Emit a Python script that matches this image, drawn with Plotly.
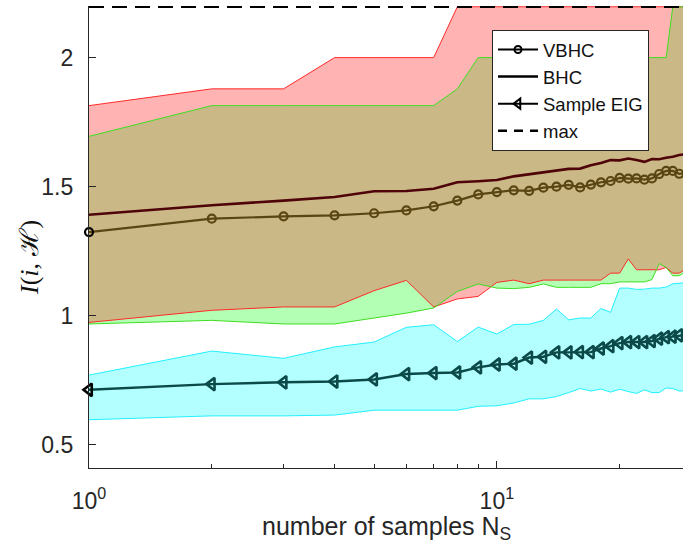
import numpy as np
import plotly.graph_objects as go

# ---------------- data ----------------
n_samples = list(range(1, 31))

vbhc = [1.324, 1.376, 1.385, 1.389, 1.397, 1.408, 1.424, 1.446, 1.470, 1.479,
        1.486, 1.484, 1.496, 1.500, 1.507, 1.497, 1.508, 1.517, 1.522, 1.534,
        1.531, 1.532, 1.527, 1.532, 1.549, 1.561, 1.561, 1.550, 1.552, 1.555]

bhc = [1.391, 1.428, 1.446, 1.460, 1.482, 1.483, 1.492, 1.517, 1.521, 1.526,
       1.540, 1.548, 1.556, 1.565, 1.569, 1.570, 1.583, 1.592, 1.603, 1.602,
       1.609, 1.603, 1.596, 1.607, 1.606, 1.612, 1.616, 1.623, 1.626, 1.628]

sample_eig = [0.713, 0.735, 0.742, 0.745, 0.753, 0.774, 0.778, 0.780, 0.800, 0.811,
              0.814, 0.838, 0.841, 0.858, 0.858, 0.859, 0.859, 0.873, 0.882, 0.894,
              0.898, 0.898, 0.898, 0.902, 0.911, 0.917, 0.919, 0.924, 0.926, 0.930]

max_value = 2.1972  # log(9)

# BHC band (red)
bhc_upper = [1.814, 1.879, 1.879, 2.0, 2.0, 2.0, 2.0, 2.197, 2.197, 2.197,
             2.197, 2.197, 2.197, 2.197, 2.197, 2.197, 2.197, 2.197, 2.197, 2.197,
             2.197, 2.197, 2.197, 2.197, 2.197, 2.197, 2.197, 2.197, 2.197, 2.197]
bhc_lower = [0.974, 1.021, 1.034, 1.034, 1.097, 1.137, 1.034, 1.065, 1.075, 1.129,
             1.138, 1.124, 1.138, 1.138, 1.138, 1.138, 1.138, 1.138, 1.165, 1.165,
             1.220, 1.178, 1.178, 1.178, 1.178, 1.187, 1.165, 1.165, 1.180, 1.190]

# VBHC band (green)
vbhc_upper = [1.695, 1.814, 1.814, 1.814, 1.814, 1.814, 1.814, 1.879, 2.0, 2.0,
              2.0, 2.0, 2.0, 2.0, 2.0, 2.0, 2.0, 2.0, 2.0, 2.0,
              2.0, 2.0, 2.0, 2.0, 2.0, 2.0, 2.197, 2.197, 2.197, 2.197]
vbhc_lower = [0.968, 0.982, 0.968, 0.968, 0.991, 1.010, 1.030, 1.094, 1.123, 1.107,
              1.105, 1.110, 1.123, 1.110, 1.110, 1.110, 1.110, 1.124, 1.124, 1.131,
              1.131, 1.131, 1.131, 1.140, 1.202, 1.187, 1.155, 1.155, 1.170, 1.180]

# Sample EIG band (cyan)
eig_upper = [0.770, 0.863, 0.835, 0.879, 0.898, 0.955, 0.965, 0.900, 0.956, 0.929,
             0.966, 0.967, 0.982, 1.026, 0.984, 0.991, 0.991, 1.028, 1.013, 1.107,
             1.107, 1.102, 1.103, 1.107, 1.107, 1.111, 1.124, 1.126, 1.128, 1.130]
eig_lower = [0.597, 0.612, 0.612, 0.615, 0.634, 0.634, 0.634, 0.634, 0.649, 0.651,
             0.662, 0.678, 0.678, 0.687, 0.702, 0.718, 0.708, 0.716, 0.704, 0.715,
             0.706, 0.699, 0.713, 0.702, 0.702, 0.720, 0.718, 0.708, 0.710, 0.712]

x_ticks = [1, 10]
x_ticktext = ["10<sup>0</sup>", "10<sup>1</sup>"]
x_minor = [2, 3, 4, 5, 6, 7, 8, 9, 20]
y_ticks = [0.5, 1, 1.5, 2]
y_ticktext = ["0.5", "1", "1.5", "2"]

# ---------------- styling ----------------
PINK = "#FFB3B3"
LGREEN = "#B3FFB3"
LCYAN = "#B3FFFF"
TAN = "#CAB886"
RED_EDGE = "#FF2A2A"
GREEN_EDGE = "#3FDD22"
CYAN_EDGE = "#22F0FF"
VBHC_COL = "#5A4612"
BHC_COL = "#4E0409"
EIG_COL = "#0C4A4A"
AX = "#262626"
SANS = "Liberation Sans, Arial, sans-serif"


def envelope(x, a, b, pick):
    lx = np.log10(np.asarray(x, dtype=float))
    xs, ys = [], []
    for i in range(len(x)):
        if i > 0:
            d0 = a[i - 1] - b[i - 1]
            d1 = a[i] - b[i]
            if d0 * d1 < 0:
                t = d0 / (d0 - d1)
                xs.append(10 ** (lx[i - 1] + t * (lx[i] - lx[i - 1])))
                ys.append(a[i - 1] + t * (a[i] - a[i - 1]))
        xs.append(x[i])
        ys.append(pick(a[i], b[i]))
    return xs, ys


def band(x, up, lo, color):
    return go.Scatter(x=list(x) + list(x)[::-1], y=list(up) + list(lo)[::-1],
                      fill="toself", fillcolor=color, mode="lines",
                      line=dict(width=0), hoverinfo="skip", showlegend=False)


def edge(x, y, color):
    return go.Scatter(x=x, y=y, mode="lines", line=dict(color=color, width=1),
                      hoverinfo="skip", showlegend=False)


fig = go.Figure()

# bands
fig.add_trace(band(n_samples, eig_upper, eig_lower, LCYAN))
fig.add_trace(band(n_samples, bhc_upper, bhc_lower, PINK))
fig.add_trace(band(n_samples, vbhc_upper, vbhc_lower, LGREEN))
ux, uy = envelope(n_samples, bhc_upper, vbhc_upper, min)
lx_, ly_ = envelope(n_samples, bhc_lower, vbhc_lower, max)
fig.add_trace(go.Scatter(x=ux + lx_[::-1], y=uy + ly_[::-1], fill="toself",
                         fillcolor=TAN, mode="lines", line=dict(width=0),
                         hoverinfo="skip", showlegend=False))

# band edges
fig.add_trace(edge(n_samples, eig_upper, CYAN_EDGE))
fig.add_trace(edge(n_samples, eig_lower, CYAN_EDGE))
fig.add_trace(edge(n_samples, bhc_upper, RED_EDGE))
fig.add_trace(edge(n_samples, bhc_lower, RED_EDGE))
fig.add_trace(edge(n_samples, vbhc_upper, GREEN_EDGE))
fig.add_trace(edge(n_samples, vbhc_lower, GREEN_EDGE))

# main lines
fig.add_trace(go.Scatter(x=n_samples, y=bhc, mode="lines",
                         line=dict(color=BHC_COL, width=2.6),
                         showlegend=False))
vb_mcol = ["#000000"] + [VBHC_COL] * (len(n_samples) - 1)
fig.add_trace(go.Scatter(x=n_samples, y=vbhc, mode="lines+markers",
                         line=dict(color=VBHC_COL, width=2.2),
                         marker=dict(symbol="circle-open", size=8, color=vb_mcol,
                                     line=dict(width=2.2, color=vb_mcol)),
                         cliponaxis=False, showlegend=False))
eig_mcol = ["#000000"] + [EIG_COL] * (len(n_samples) - 1)
fig.add_trace(go.Scatter(x=n_samples, y=sample_eig, mode="lines+markers",
                         line=dict(color=EIG_COL, width=2.4),
                         marker=dict(symbol="triangle-left-open", size=11, color=eig_mcol,
                                     line=dict(width=2.6, color=eig_mcol)),
                         cliponaxis=False, showlegend=False))
fig.add_trace(go.Scatter(x=[n_samples[0], n_samples[-1]], y=[max_value, max_value],
                         mode="lines", line=dict(color="#000000", width=2.5, dash="15px,8px"),
                         cliponaxis=False, showlegend=False))

# legend entries (black, as in the reference)
fig.add_trace(go.Scatter(x=[None], y=[None], mode="lines+markers", name="VBHC",
                         line=dict(color="black", width=2),
                         marker=dict(symbol="circle-open", size=7, color="black",
                                     line=dict(width=2, color="black"))))
fig.add_trace(go.Scatter(x=[None], y=[None], mode="lines", name="BHC",
                         line=dict(color="black", width=2.5)))
fig.add_trace(go.Scatter(x=[None], y=[None], mode="lines+markers", name="Sample EIG",
                         line=dict(color="black", width=2),
                         marker=dict(symbol="triangle-left-open", size=9, color="black",
                                     line=dict(width=2, color="black"))))
fig.add_trace(go.Scatter(x=[None], y=[None], mode="lines", name="max",
                         line=dict(color="black", width=2.5, dash="9px,7px")))

L, T, R, B = 89, 6, 0, 80
W, H = 683, 548
PW, PH = W - L - R, H - T - B


def px(xp):
    return (xp - L) / PW


def py(yp):
    return 1 - (yp - T) / PH


fig.update_layout(
    width=W, height=H,
    margin=dict(l=L, r=R, t=T, b=B, pad=0),
    paper_bgcolor="white", plot_bgcolor="white",
    font=dict(family=SANS, color=AX, size=22),
    showlegend=True,
    legend=dict(x=px(492), y=py(30), xanchor="left", yanchor="top",
                bgcolor="white", bordercolor=AX, borderwidth=1,
                font=dict(family=SANS, size=18.5, color="#111111"),
                tracegroupgap=0, itemwidth=40),
    xaxis=dict(type="log", range=[0, np.log10(28.6)],
               tickmode="array", tickvals=x_ticks, ticktext=x_ticktext,
               ticks="inside", ticklen=7, tickwidth=1, tickcolor=AX,
               minor=dict(tickmode="array", tickvals=x_minor, ticks="inside",
                          ticklen=4, tickwidth=1, tickcolor=AX),
               showline=True, linecolor=AX, linewidth=1.2, mirror=False,
               showgrid=False, zeroline=False,
               tickfont=dict(family=SANS, size=23, color=AX),
               ticklabelstandoff=12),
    yaxis=dict(range=[0.41, 2.2], tickmode="array", tickvals=y_ticks,
               ticktext=y_ticktext,
               ticks="inside", ticklen=7, tickwidth=1, tickcolor=AX,
               showline=True, linecolor=AX, linewidth=1.2, mirror=False,
               showgrid=False, zeroline=False,
               tickfont=dict(family=SANS, size=23, color=AX),
               ticklabelstandoff=10),
)

fig.add_annotation(text="<i>I</i>(<i>i</i>, ℋ)", xref="paper", yref="paper",
                   x=px(29), y=py(258), xanchor="center", yanchor="middle",
                   textangle=-90, showarrow=False,
                   font=dict(family="Liberation Serif, DejaVu Serif, serif", size=26,
                             color="#111111"))
fig.add_annotation(text="number of samples N<sub>S</sub>", xref="paper", yref="paper",
                   x=px(386), y=py(528), xanchor="center", yanchor="middle",
                   showarrow=False,
                   font=dict(family=SANS, size=25, color=AX))

fig.write_html("out.html", config={"displayModeBar": False},
               post_script="document.body.style.margin='0';document.body.style.overflow='hidden';")
